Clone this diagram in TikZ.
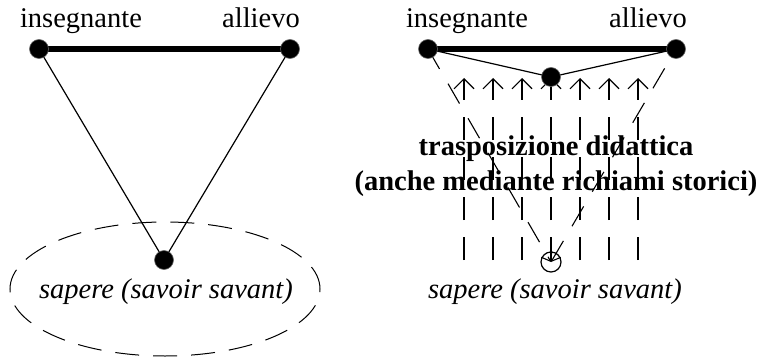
\documentclass[tikz,border=0pt]{standalone}
\usepackage{fontspec}
\setmainfont{Liberation Serif}
\usetikzlibrary{arrows.meta,shapes.geometric}
\begin{document}
\begin{tikzpicture}[x=1pt,y=-1pt,
  lbl/.style={font=\fontsize{28.5}{34}\selectfont, inner sep=0pt, anchor=base},
  dot/.style={circle, fill=black, draw=black!60, line width=0.6pt, minimum size=19pt, inner sep=0pt},
  thickln/.style={line width=5.5pt},
  thinln/.style={line width=1.2pt},
  dashln/.style={line width=1.1pt, dash pattern=on 23pt off 17pt},
  barb/.style={-{Straight Barb[length=10pt,width=20pt,line width=1.1pt]}}
]
\useasboundingbox (0,0) rectangle (767,358);
% ---------- left diagram ----------
\node[draw, ellipse, line width=1pt, dash pattern=on 24pt off 14pt,
      minimum width=310pt, minimum height=134pt, inner sep=0pt] (e1) at (165,289) {};
\coordinate (ci1) at (39,49);
\coordinate (ca1) at (290,49);
\coordinate (cs1) at (164,260);
\draw[thickln] (ci1) -- (ca1);
\draw[thinln] (ci1) -- (cs1) -- (ca1);
\node[dot] (i1) at (ci1) {};
\node[dot] (a1) at (ca1) {};
\node[dot] (s1) at (cs1) {};
\node[lbl] (li1) at (81,28) {insegnante};
\node[lbl] (la1) at (261,28) {allievo};
\node[lbl] (ls1) at (166,298) {\itshape sapere (savoir savant)};
% ---------- right diagram ----------
\coordinate (ci2) at (428,49);
\coordinate (ca2) at (676,49);
\coordinate (cm2) at (551,77);
\node[circle, draw, line width=1.2pt, minimum size=20pt, inner sep=0pt] (c2) at (551,262) {};
\foreach \k/\x in {1/464,2/493,3/522,4/551,5/580,6/609,7/638}{
  \coordinate (b\k) at (\x,260);
  \coordinate (t\k) at (\x,78);
  \draw[dashln, barb] (b\k) -- (t\k);
}
\draw[dashln, -{Straight Barb[length=8pt,width=12pt,line width=1.1pt]}] (ci2) -- (c2.center);
\draw[dashln, {Straight Barb[length=8pt,width=12pt,line width=1.1pt]}-] (c2.center) -- (ca2);
\draw[thickln] (ci2) -- (ca2);
\draw[thinln] (ci2) -- (cm2) -- (ca2);
\node[dot] (i2) at (ci2) {};
\node[dot] (a2) at (ca2) {};
\node[dot] (m2) at (cm2) {};
\node[lbl] (li2) at (467,28) {insegnante};
\node[lbl] (la2) at (648,28) {allievo};
\node[lbl] (t1) at (556,156) {\bfseries trasposizione didattica};
\node[lbl] (t2) at (556,190) {\bfseries (anche mediante richiami storici)};
\node[lbl] (ls2) at (555,298) {\itshape sapere (savoir savant)};
\end{tikzpicture}
\end{document}
